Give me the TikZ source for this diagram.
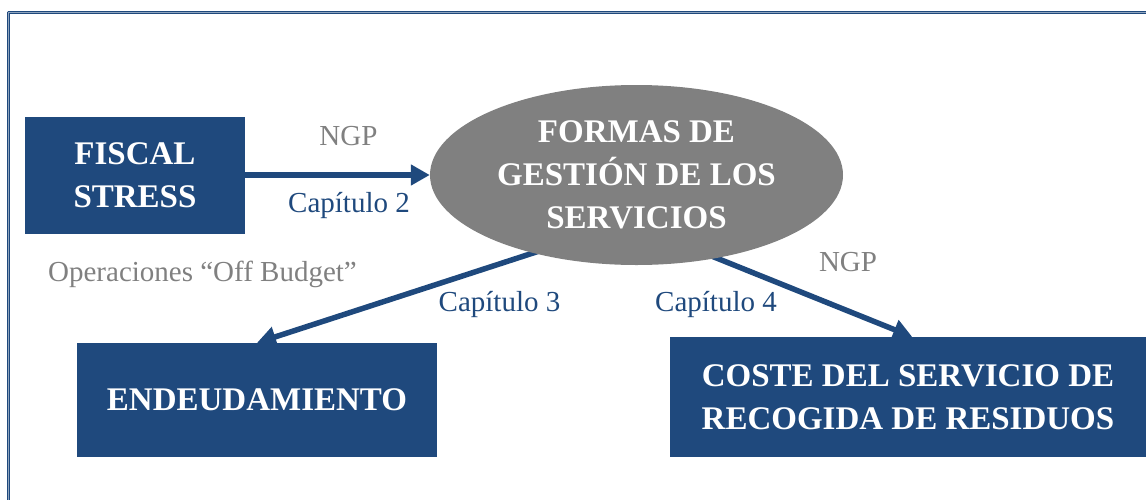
\documentclass[tikz,border=0pt]{standalone}
\usepackage{fontspec}
\setmainfont{Liberation Serif}
\usetikzlibrary{arrows.meta,shapes.geometric,backgrounds}
\definecolor{azul}{RGB}{31,73,125}
\definecolor{gris}{RGB}{128,128,128}
\begin{document}
\begin{tikzpicture}[x=1pt,y=-1pt,line join=round,
	caja/.style={fill=azul,text=white,inner sep=0pt,align=center,font=\fontsize{33}{43}\selectfont\bfseries},
	flecha/.style={azul,line width=5.5pt,-{Triangle[length=19pt,width=20pt]}},
	etiq/.style={anchor=base,inner sep=0pt,font=\fontsize{29}{30}\selectfont}]
	\useasboundingbox (0,0) rectangle (1146,499);
	\clip (0,0) rectangle (1146,499);
	\draw[azul,line width=1.1pt,double=azul!50,double distance=0.9pt] (8.5,530) |- (1170,12.5);
	\node[caja,minimum width=220pt,minimum height=117pt] (fiscal) at (135,175) {FISCAL\\STRESS};
	\node[caja,ellipse,fill=gris,minimum width=413pt,minimum height=180pt] (ell) at (636.5,175) {FORMAS DE\\GESTIÓN DE LOS\\SERVICIOS};
	\node[caja,minimum width=360pt,minimum height=114pt] (endeu) at (257,400) {ENDEUDAMIENTO};
	\node[caja,minimum width=476pt,minimum height=120pt] (coste) at (908,397) {COSTE DEL SERVICIO DE\\RECOGIDA DE RESIDUOS};
	\begin{scope}[on background layer]
		\draw[flecha] (fiscal.east) -- (ell.west);
		\draw[flecha,shorten <=-8pt] (ell.217) -- (endeu.north);
		\draw[flecha,shorten <=-8pt] (ell.-46) -- (coste.86);
	\end{scope}
	\node[etiq,gris] (ngpa) at (348.5,145) {NGP};
	\node[etiq,azul] (cap2) at (349,212) {Capítulo 2};
	\node[etiq,gris] (offb) at (202.5,281.5) {Operaciones “Off Budget”};
	\node[etiq,azul] (cap3) at (499.5,311.5) {Capítulo 3};
	\node[etiq,azul] (cap4) at (716,311.5) {Capítulo 4};
	\node[etiq,gris] (ngpb) at (848,271.5) {NGP};
\end{tikzpicture}
\end{document}
